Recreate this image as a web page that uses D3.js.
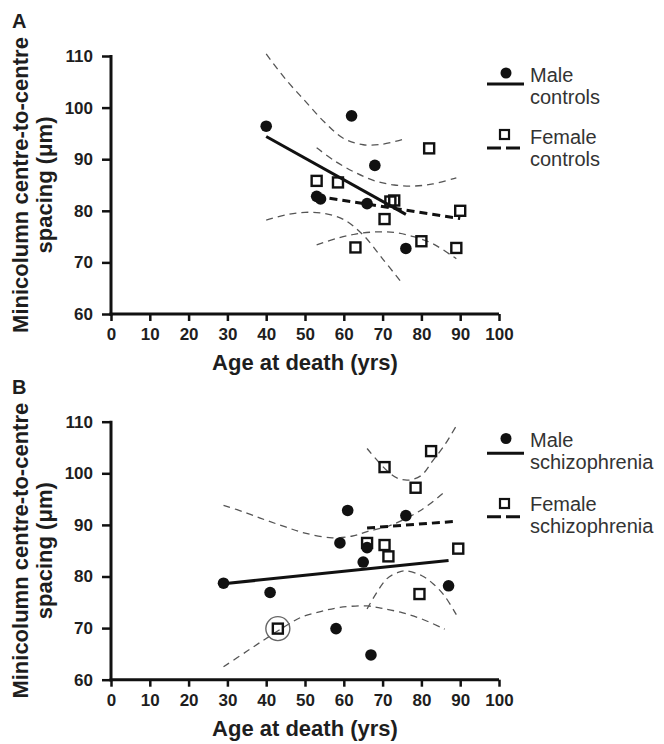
<!DOCTYPE html>
<html>
<head>
<meta charset="utf-8">
<script src="https://cdn.jsdelivr.net/npm/d3@7"></script>
<style>
  html, body { margin: 0; padding: 0; background: #fff; }
  svg { display: block; }
  text { font-family: "Liberation Sans", Arial, Helvetica, sans-serif; fill: #1e1e1e; }
</style>
</head>
<body>
<svg id="chart" width="664" height="744"></svg>
<script>
// ---------------- DATA ----------------
const xTicks = [0, 10, 20, 30, 40, 50, 60, 70, 80, 90, 100];
const yTicks = [60, 70, 80, 90, 100, 110];

// Panel A – controls
const ageA_male      = [40, 53, 54, 62, 66, 68, 76];
const spacingA_male  = [96.4, 82.8, 82.3, 98.4, 81.4, 88.8, 72.7];
const ageA_female     = [53, 58.5, 63, 70.5, 72, 73, 80, 82, 89, 90];
const spacingA_female = [85.8, 85.5, 72.9, 78.4, 81.8, 82.0, 74.1, 92.1, 72.8, 80.0];
const fitA_male   = [[40, 94.4], [76, 79.3]];
const fitA_female = [[53, 82.8], [90, 78.5]];
const ciA_male_upper   = [[40,110.4],[45,105.5],[50,101.3],[55,97.2],[60,94.0],[65,92.8],[70,92.9],[75,93.8]];
const ciA_male_lower   = [[40,78.2],[45,79.2],[50,79.7],[55,79.5],[60,78.3],[65,75.3],[70,70.7],[75,66.0]];
const ciA_female_upper = [[53,92.2],[58,89.5],[63,87.4],[68,85.8],[73,85.0],[78,84.8],[83,85.2],[89,86.4]];
const ciA_female_lower = [[53,73.4],[58,74.6],[63,75.5],[68,75.9],[73,75.8],[78,75.0],[83,73.6],[89,70.7]];

// Panel B – schizophrenia
const ageB_male      = [29, 41, 58, 59, 61, 65, 66, 67, 76, 87];
const spacingB_male  = [78.7, 76.9, 69.9, 86.5, 92.8, 82.8, 85.6, 64.8, 91.8, 78.2];
const ageB_female     = [43, 66, 70.5, 70.5, 71.5, 78.5, 79.5, 82.5, 89.5];
const spacingB_female = [69.9, 86.5, 101.2, 86.1, 83.9, 97.2, 76.6, 104.3, 85.4];
const outlierB_female = [[43, 69.9]];
const fitB_male   = [[29, 78.6], [87, 83.1]];
const fitB_female = [[66, 89.4], [89, 90.7]];
const ciB_male_upper   = [[29,93.8],[35,92.3],[40,90.9],[45,89.6],[50,88.4],[57,87.5],[62,87.8],[66,88.7],[72,89.9],[80,92.9],[86,96.4]];
const ciB_male_lower   = [[29,62.5],[35,65.5],[40,68.0],[45,70.4],[49,72.1],[54,73.2],[59,74.0],[66,74.3],[70,73.8],[75,73.0],[80,71.8],[86,69.8]];
const ciB_female_upper = [[66,104.8],[71,100.6],[74,99.0],[77,98.7],[80,99.6],[83,102.5],[86,105.5],[89,109.2]];
const ciB_female_lower = [[66,73.7],[71,79.5],[74,80.8],[76,81.1],[80,80.2],[83,78.6],[86,76.2],[89,72.6]];

const yTitle = ["Minicolumn centre-to-centre", "spacing (\u03bcm)"];
const xTitle = "Age at death (yrs)";

const panels = [
  { letter: "A", top: 0,
    maleAge: ageA_male, maleVal: spacingA_male, femAge: ageA_female, femVal: spacingA_female,
    fitM: fitA_male, fitF: fitA_female,
    ci: [ciA_male_upper, ciA_male_lower, ciA_female_upper, ciA_female_lower],
    outliers: [],
    legend: ["Male", "controls", "Female", "controls"] },
  { letter: "B", top: 365.7,
    maleAge: ageB_male, maleVal: spacingB_male, femAge: ageB_female, femVal: spacingB_female,
    fitM: fitB_male, fitF: fitB_female,
    ci: [ciB_male_upper, ciB_male_lower, ciB_female_upper, ciB_female_lower],
    outliers: outlierB_female,
    legend: ["Male", "schizophrenia", "Female", "schizophrenia"] }
];

// ---------------- DRAW ----------------
const svg = d3.select("#chart");
const x = d3.scaleLinear().domain([0, 100]).range([111, 499]);

panels.forEach((p, i) => {
  const g = svg.append("g").attr("transform", `translate(0,${p.top})`);
  const y = d3.scaleLinear().domain([60, 110]).range([314, 56]);

  // panel letter
  g.append("text").attr("x", 12).attr("y", 28)
    .style("font-size", "20px").style("font-weight", "bold").text(p.letter);

  // axes
  const yAxis = d3.axisLeft(y).tickValues(yTicks).tickSize(9).tickSizeOuter(0).tickPadding(9);
  const xAxis = d3.axisBottom(x).tickValues(xTicks).tickSize(7).tickSizeOuter(0).tickPadding(7);
  const ya = g.append("g").attr("transform", `translate(${x(0)},0)`).call(yAxis);
  const xa = g.append("g").attr("transform", `translate(0,${y(60)})`).call(xAxis);
  [ya, xa].forEach(a => {
    a.select(".domain").attr("stroke", "#111").attr("stroke-width", 3);
    a.selectAll(".tick line").attr("stroke", "#111").attr("stroke-width", 2.5);
    a.selectAll(".tick text").style("font-size", "17px").style("font-weight", "bold")
      .style("font-family", '"Liberation Sans", Arial, sans-serif').attr("fill", "#1e1e1e");
  });
  ya.select(".domain").attr("d", `M0,${y(60) + 1.5}V${y(110) - 1}`);
  xa.select(".domain").attr("d", `M${x(0) - 1.5},0H${x(100)}`);

  // axis titles
  const yt = g.append("text")
    .attr("transform", `translate(0,${(y(60) + y(110)) / 2}) rotate(-90)`)
    .attr("text-anchor", "middle")
    .style("font-size", "22px").style("font-weight", "bold");
  yt.append("tspan").attr("x", 0).attr("y", 28).text(yTitle[0]);
  yt.append("tspan").attr("x", 0).attr("y", 52).text(yTitle[1]);
  g.append("text").attr("x", (x(0) + x(100)) / 2).attr("y", 370)
    .attr("text-anchor", "middle")
    .style("font-size", "22px").style("font-weight", "bold").text(xTitle);

  const line = d3.line().x(d => x(d[0])).y(d => y(d[1]));
  const curve = d3.line().x(d => x(d[0])).y(d => y(d[1])).curve(d3.curveCatmullRom);

  // confidence bands
  p.ci.forEach(c => {
    g.append("path").attr("d", curve(c)).attr("fill", "none")
      .attr("stroke", "#555").attr("stroke-width", 1.3).attr("stroke-dasharray", "7,5");
  });

  // regression lines
  g.append("path").attr("d", line(p.fitM)).attr("fill", "none")
    .attr("stroke", "#111").attr("stroke-width", 3);
  g.append("path").attr("d", line(p.fitF)).attr("fill", "none")
    .attr("stroke", "#111").attr("stroke-width", 3).attr("stroke-dasharray", "8,5");

  // outlier ring
  g.selectAll(".ring").data(p.outliers).enter().append("circle")
    .attr("cx", d => x(d[0])).attr("cy", d => y(d[1])).attr("r", 12)
    .attr("fill", "none").attr("stroke", "#666").attr("stroke-width", 1.4);

  // male circles
  g.selectAll(".mc").data(p.maleAge.map((a, k) => [a, p.maleVal[k]])).enter().append("circle")
    .attr("cx", d => x(d[0])).attr("cy", d => y(d[1])).attr("r", 5.8).attr("fill", "#111");

  // female squares
  const sq = 10;
  g.selectAll(".fsq").data(p.femAge.map((a, k) => [a, p.femVal[k]])).enter().append("rect")
    .attr("x", d => x(d[0]) - sq / 2).attr("y", d => y(d[1]) - sq / 2)
    .attr("width", sq).attr("height", sq)
    .attr("fill", "none").attr("stroke", "#111").attr("stroke-width", 2.4);

  // legend
  const L = i === 0
    ? { cy: 73, ly: 84, t1: 82, t2: 104, sy: 134.5, dy: 148, t3: 144, t4: 166 }
    : { cy: 72.8, ly: 87.5, t1: 81.3, t2: 103.3, sy: 137.8, dy: 151, t3: 145, t4: 167.5 };
  const lg = g.append("g");
  lg.append("circle").attr("cx", 506).attr("cy", L.cy).attr("r", 5.5).attr("fill", "#111");
  lg.append("line").attr("x1", 487).attr("x2", 524).attr("y1", L.ly).attr("y2", L.ly)
    .attr("stroke", "#111").attr("stroke-width", 3);
  lg.append("rect").attr("x", 500).attr("y", L.sy - 4.5).attr("width", 9).attr("height", 9)
    .attr("fill", "none").attr("stroke", "#111").attr("stroke-width", 2.2);
  lg.append("line").attr("x1", 487).attr("x2", 523).attr("y1", L.dy).attr("y2", L.dy)
    .attr("stroke", "#111").attr("stroke-width", 3).attr("stroke-dasharray", "14,5");
  [[L.t1, p.legend[0]], [L.t2, p.legend[1]], [L.t3, p.legend[2]], [L.t4, p.legend[3]]].forEach(t => {
    lg.append("text").attr("x", 530).attr("y", t[0]).style("font-size", "20px")
      .attr("fill", "#333").style("fill", "#333").text(t[1]);
  });
});
</script>
</body>
</html>
